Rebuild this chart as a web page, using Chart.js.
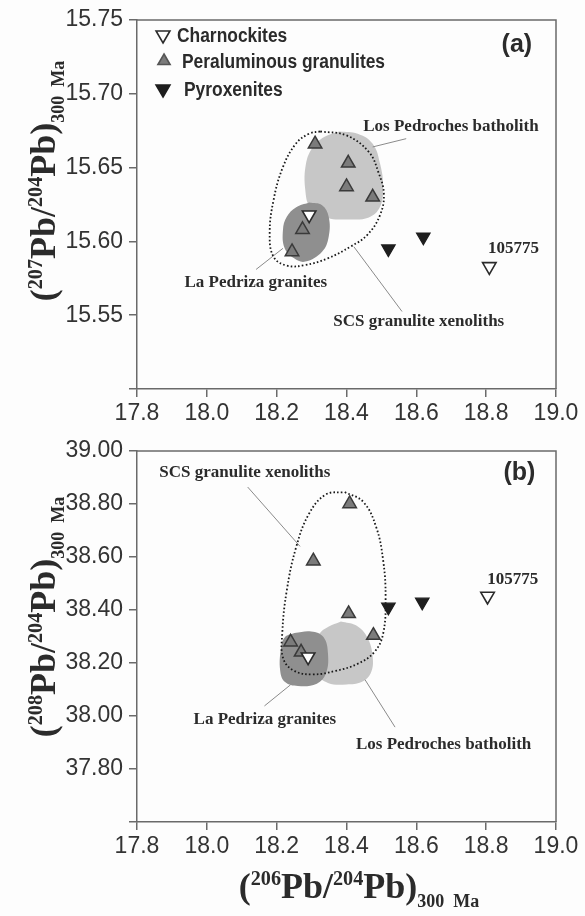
<!DOCTYPE html>
<html><head><meta charset="utf-8">
<script src="https://cdn.jsdelivr.net/npm/chart.js@4.4.1/dist/chart.umd.min.js"></script>
<style>html,body{margin:0;padding:0;background:#fdfdfd;} #wrap{position:relative;width:585px;height:916px;} canvas{position:absolute;left:0;top:0;}</style>
</head><body><div id="wrap"><canvas id="ca" width="585" height="916"></canvas><canvas id="cb" width="585" height="916"></canvas></div>
<script>
// ---------- tick values ----------
const xTicks = [17.8, 18.0, 18.2, 18.4, 18.6, 18.8, 19.0];
const yTicksA = [15.50, 15.55, 15.60, 15.65, 15.70, 15.75];
const yTicksB = [37.60, 37.80, 38.00, 38.20, 38.40, 38.60, 38.80, 39.00];
const hiddenYLabelsA = [15.50];
const hiddenYLabelsB = [37.60];

// ---------- panel (a): 207Pb/204Pb vs 206Pb/204Pb ----------
const charnA = [{x:18.293,y:15.618},{x:18.809,y:15.583}];
const peralA = [{x:18.310,y:15.666},{x:18.405,y:15.653},{x:18.400,y:15.637},{x:18.475,y:15.630},{x:18.274,y:15.608},{x:18.244,y:15.593}];
const pyroxA = [{x:18.520,y:15.595},{x:18.620,y:15.603}];
const pedrochesA = [{x:18.379,y:15.6745},{x:18.432,y:15.6730},{x:18.475,y:15.6662},{x:18.496,y:15.6527},{x:18.505,y:15.6369},{x:18.496,y:15.6234},{x:18.464,y:15.6162},{x:18.400,y:15.6149},{x:18.346,y:15.6158},{x:18.298,y:15.6223},{x:18.282,y:15.6347},{x:18.284,y:15.6527},{x:18.304,y:15.6640},{x:18.336,y:15.6707},{x:18.379,y:15.6745}];
const pedrizaA = [{x:18.293,y:15.6263},{x:18.330,y:15.6245},{x:18.349,y:15.6167},{x:18.349,y:15.6032},{x:18.330,y:15.5930},{x:18.282,y:15.5863},{x:18.250,y:15.5885},{x:18.223,y:15.5953},{x:18.218,y:15.6077},{x:18.229,y:15.6167},{x:18.255,y:15.6230},{x:18.293,y:15.6263}];
const scsA = [{x:18.325,y:15.6745},{x:18.400,y:15.6718},{x:18.464,y:15.6606},{x:18.491,y:15.6471},{x:18.507,y:15.6324},{x:18.496,y:15.6178},{x:18.459,y:15.6043},{x:18.411,y:15.5964},{x:18.346,y:15.5885},{x:18.282,y:15.5840},{x:18.229,y:15.5836},{x:18.191,y:15.5896},{x:18.180,y:15.6054},{x:18.191,y:15.6279},{x:18.218,y:15.6504},{x:18.255,y:15.6662},{x:18.293,y:15.6730},{x:18.325,y:15.6745}];
const leadersA = [
  [{x:18.475,y:15.6640},{x:18.571,y:15.6696}],
  [{x:18.141,y:15.5810},{x:18.218,y:15.5953}],
  [{x:18.559,y:15.5525},{x:18.421,y:15.5964}]
];
const notesA = [
  {t:'Los Pedroches batholith', x:18.448, y:15.6775},
  {t:'La Pedriza granites', x:17.936, y:15.5720},
  {t:'SCS granulite xenoliths', x:18.362, y:15.5457},
  {t:'105775', x:18.805, y:15.5953}
];
const panelTagA = {t:'(a)', x:18.888, y:15.733};

// ---------- panel (b): 208Pb/204Pb vs 206Pb/204Pb ----------
const charnB = [{x:18.290,y:38.223},{x:18.804,y:38.452}];
const peralB = [{x:18.409,y:38.801},{x:18.305,y:38.585},{x:18.406,y:38.386},{x:18.477,y:38.304},{x:18.240,y:38.279},{x:18.270,y:38.241}];
const pyroxB = [{x:18.520,y:38.411},{x:18.617,y:38.430}];
const pedrochesB = [{x:18.384,y:38.357},{x:18.427,y:38.342},{x:18.459,y:38.298},{x:18.475,y:38.223},{x:18.469,y:38.160},{x:18.443,y:38.128},{x:18.400,y:38.119},{x:18.347,y:38.125},{x:18.315,y:38.160},{x:18.312,y:38.260},{x:18.323,y:38.311},{x:18.347,y:38.336},{x:18.384,y:38.357}];
const pedrizaB = [{x:18.251,y:38.313},{x:18.299,y:38.319},{x:18.334,y:38.298},{x:18.347,y:38.235},{x:18.341,y:38.160},{x:18.315,y:38.122},{x:18.261,y:38.113},{x:18.224,y:38.128},{x:18.210,y:38.172},{x:18.213,y:38.260},{x:18.224,y:38.298},{x:18.251,y:38.313}];
const scsB = [{x:18.395,y:38.845},{x:18.448,y:38.808},{x:18.485,y:38.713},{x:18.505,y:38.587},{x:18.512,y:38.449},{x:18.505,y:38.311},{x:18.480,y:38.242},{x:18.432,y:38.197},{x:18.368,y:38.170},{x:18.304,y:38.157},{x:18.251,y:38.170},{x:18.219,y:38.216},{x:18.216,y:38.311},{x:18.229,y:38.474},{x:18.256,y:38.638},{x:18.293,y:38.764},{x:18.341,y:38.836},{x:18.395,y:38.845}];
const leadersB = [
  [{x:18.117,y:38.864},{x:18.267,y:38.640}],
  [{x:18.165,y:38.038},{x:18.240,y:38.118}],
  [{x:18.539,y:37.958},{x:18.453,y:38.137}]
];
const notesB = [
  {t:'SCS granulite xenoliths', x:17.864, y:38.918},
  {t:'La Pedriza granites', x:17.962, y:37.986},
  {t:'Los Pedroches batholith', x:18.427, y:37.892},
  {t:'105775', x:18.803, y:38.514}
];
const panelTagB = {t:'(b)', x:18.895, y:38.918};

const legendItems = ['Charnockites', 'Peraluminous granulites', 'Pyroxenites'];

// ---------- styles ----------
const INK = '#2b2b2b';
const AXIS = '#6a6a6a';
const GRAY_TRI = '#7b7b7b';
const LIGHT_BLOB = '#c7c7c7';
const DARK_BLOB = '#8f8f8f';

function triPath(ctx, x, y, r, down){
  const s = down ? -1 : 1;
  ctx.beginPath();
  ctx.moveTo(x, y - s*r);
  ctx.lineTo(x + r*0.866, y + s*r*0.5);
  ctx.lineTo(x - r*0.866, y + s*r*0.5);
  ctx.closePath();
}

function drawRich(ctx, parts, x, y, rot, F){
  ctx.save();
  ctx.translate(x, y);
  ctx.rotate(rot);
  ctx.fillStyle = INK;
  ctx.textBaseline = 'alphabetic';
  ctx.textAlign = 'left';
  let total = 0;
  parts.forEach(p => { ctx.font = 'bold ' + (F*p.s).toFixed(1) + 'px "Liberation Serif"'; p.w = ctx.measureText(p.t).width; total += p.w; });
  let cx = -total/2;
  parts.forEach(p => { ctx.font = 'bold ' + (F*p.s).toFixed(1) + 'px "Liberation Serif"'; ctx.fillText(p.t, cx, p.dy*F); cx += p.w; });
  ctx.restore();
}
function isoParts(a){
  return [
    {t:'(', s:1, dy:0},{t:a, s:0.56, dy:-0.36},{t:'Pb', s:1, dy:0},{t:'/', s:1, dy:0},
    {t:'204', s:0.56, dy:-0.36},{t:'Pb', s:1, dy:0},{t:')', s:1, dy:0},
    {t:'300', s:0.5, dy:0.24},{t:'  Ma', s:0.5, dy:0.24}
  ];
}

function makeDecor(cfg){
  return {
    id: 'decor',
    afterDraw(chart){
      const ctx = chart.ctx, a = chart.chartArea;
      const xs = chart.scales.x, ys = chart.scales.y;
      ctx.save();
      // frame top & right
      ctx.strokeStyle = AXIS; ctx.lineWidth = 1.5;
      ctx.beginPath();
      ctx.moveTo(a.left, a.top); ctx.lineTo(a.right, a.top); ctx.lineTo(a.right, a.bottom);
      ctx.stroke();
      // notes
      ctx.fillStyle = INK;
      ctx.textBaseline = 'middle'; ctx.textAlign = 'left';
      ctx.font = 'bold 17px "Liberation Serif"';
      cfg.notes.forEach(n => ctx.fillText(n.t, xs.getPixelForValue(n.x), ys.getPixelForValue(n.y)));
      // panel tag
      ctx.font = 'bold 25px "Liberation Sans"'; ctx.textAlign = 'center';
      ctx.fillText(cfg.tag.t, xs.getPixelForValue(cfg.tag.x), ys.getPixelForValue(cfg.tag.y));
      // legend
      if (cfg.legend){
        const rows = [
          {dy:15, mx:26, tx:40, r:8, down:true, fill:'#ffffff', stroke:INK},
          {dy:41, mx:27, tx:45, r:7, down:false, fill:GRAY_TRI, stroke:'#555'},
          {dy:69, mx:26, tx:47, r:8, down:true, fill:'#1e1e1e', stroke:'#1e1e1e'}
        ];
        rows.forEach((r, i) => {
          const y = a.top + r.dy;
          triPath(ctx, a.left + r.mx, y, r.r, r.down);
          ctx.fillStyle = r.fill; ctx.fill();
          ctx.strokeStyle = r.stroke; ctx.lineWidth = 1.6; ctx.stroke();
          ctx.save();
          ctx.translate(a.left + r.tx, y);
          ctx.scale(0.87, 1);
          ctx.fillStyle = INK; ctx.textAlign = 'left'; ctx.textBaseline = 'middle';
          ctx.font = 'bold 20px "Liberation Sans"';
          ctx.fillText(legendItems[i], 0, 1);
          ctx.restore();
        });
      }
      // axis titles
      drawRich(ctx, isoParts(cfg.yIso), 55, cfg.yTitleCenter, -Math.PI/2, 36);
      if (cfg.xTitle) drawRich(ctx, isoParts('206'), 359, 898, 0, 36);
      ctx.restore();
    }
  };
}

function makeChart(id, d, yTicks, hidden, pad, decor){
  const shapeDs = (data, color, order) => ({type:'line', data, backgroundColor:color, borderColor:color, borderWidth:0, fill:'shape', tension:0.4, pointRadius:0, order});
  const leaderDs = pts => ({type:'line', data:pts, borderColor:'#8a8a8a', borderWidth:1, pointRadius:0, fill:false, tension:0, order:8});
  const datasets = [
    {label:'Charnockites', data:d.charn, pointStyle:'triangle', rotation:180, radius:7.8, backgroundColor:'#ffffff', borderColor:INK, borderWidth:1.6, order:1},
    {label:'Peraluminous granulites', data:d.peral, pointStyle:'triangle', rotation:0, radius:7.8, backgroundColor:GRAY_TRI, borderColor:'#3a3a3a', borderWidth:1.5, order:2},
    {label:'Pyroxenites', data:d.pyrox, pointStyle:'triangle', rotation:180, radius:7.8, backgroundColor:'#1e1e1e', borderColor:'#1e1e1e', borderWidth:1.2, order:3},
    {type:'line', data:d.scs, borderColor:'#1a1a1a', borderWidth:1.8, borderDash:[1.6,2.2], fill:false, tension:0.4, pointRadius:0, order:7},
    shapeDs(d.pedroches, LIGHT_BLOB, 10),
    shapeDs(d.pedriza, DARK_BLOB, 9)
  ];
  d.leaders.forEach(l => datasets.push(leaderDs(l)));
  return new Chart(document.getElementById(id), {
    type:'scatter',
    data:{datasets},
    options:{
      responsive:false, animation:false, events:[], devicePixelRatio:1,
      layout:{padding:pad},
      plugins:{legend:{display:false}, tooltip:{enabled:false}},
      scales:{
        x:{type:'linear', min:xTicks[0], max:xTicks[xTicks.length-1],
          afterBuildTicks: s => { s.ticks = xTicks.map(v => ({value:v})); },
          afterFit: s => { s.height = 40; },
          ticks:{callback: v => v.toFixed(1), color:'#333', font:{family:'"Liberation Sans"', size:23}, padding:3, maxRotation:0, autoSkip:false},
          grid:{drawOnChartArea:false, drawTicks:true, tickLength:8, color:AXIS, lineWidth:1.5},
          border:{display:true, color:AXIS, width:1.5}},
        y:{type:'linear', min:yTicks[0], max:yTicks[yTicks.length-1],
          afterBuildTicks: s => { s.ticks = yTicks.map(v => ({value:v})); },
          afterFit: s => { s.width = 137; },
          ticks:{callback: v => hidden.some(h => Math.abs(h - v) < 1e-6) ? '' : v.toFixed(2), color:'#333', font:{family:'"Liberation Sans"', size:23}, padding:6, autoSkip:false},
          grid:{drawOnChartArea:false, drawTicks:true, tickLength:8, color:AXIS, lineWidth:1.5},
          border:{display:true, color:AXIS, width:1.5}}
      }
    },
    plugins:[makeDecor(decor)]
  });
}

makeChart('ca', {charn:charnA, peral:peralA, pyrox:pyroxA, pedroches:pedrochesA, pedriza:pedrizaA, scs:scsA, leaders:leadersA},
  yTicksA, hiddenYLabelsA, {left:0, top:20, right:29, bottom:916-389-40},
  {notes:notesA, tag:panelTagA, legend:true, yIso:'207', yTitleCenter:181, xTitle:false});
makeChart('cb', {charn:charnB, peral:peralB, pyrox:pyroxB, pedroches:pedrochesB, pedriza:pedrizaB, scs:scsB, leaders:leadersB},
  yTicksB, hiddenYLabelsB, {left:0, top:451, right:29, bottom:916-822-40},
  {notes:notesB, tag:panelTagB, legend:false, yIso:'208', yTitleCenter:617, xTitle:true});
</script></body></html>
